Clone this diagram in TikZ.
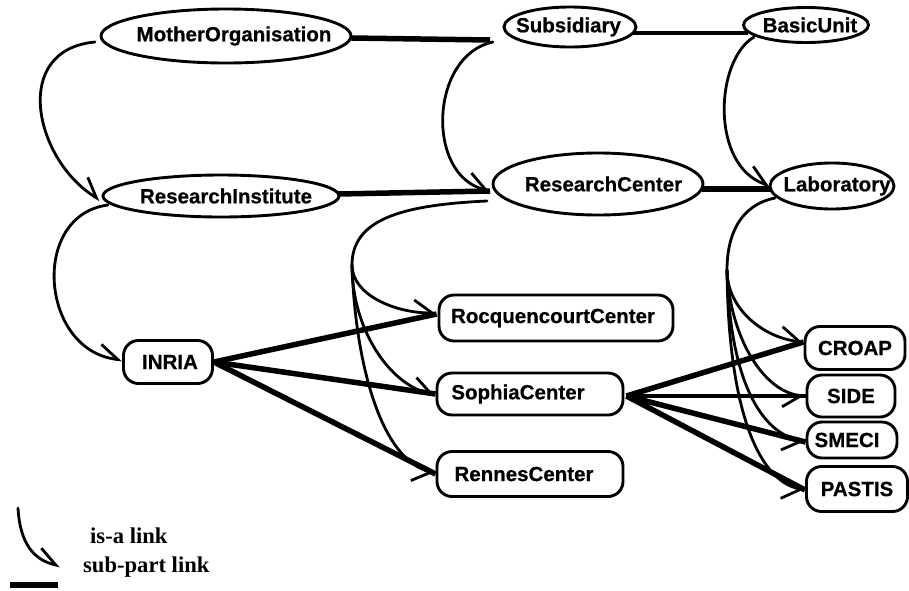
\documentclass[tikz,border=0pt]{standalone}
\usepackage{fontspec}
\setsansfont{Liberation Sans}[BoldFeatures={FakeBold=0.6}]
\newfontfamily\legendfont{Liberation Serif}
\usetikzlibrary{shapes.geometric,arrows.meta,calc}
\newcommand\shx[2]{\hbox to 0pt{\hss\kern#1\kern#1\relax #2\hss}}
\begin{document}
\begin{tikzpicture}[x=1pt,y=1pt,
  lbl/.style={font=\sffamily\bfseries\fontsize{20.5}{24}\selectfont, line width=2.9pt, draw},
  ell/.style={lbl, ellipse, inner xsep=-45pt, inner ysep=0pt},
  rbox/.style={lbl, rectangle, rounded corners=15pt, inner sep=0pt},
  isa/.style={line width=2.8pt, line cap=round, -{Straight Barb[harpoon,length=18pt,width=26pt]}},
  isaR/.style={line width=2.8pt, line cap=round, -{Straight Barb[harpoon,swap,length=18pt,width=26pt]}},
  trunk/.style={line width=2.8pt, line cap=round},
  part/.style={line width=5.5pt},
  thinpart/.style={line width=4.2pt},
  legend/.style={font=\legendfont\bfseries\fontsize{22.6}{26}\selectfont, inner sep=0pt}
]
\useasboundingbox (0,0) rectangle (909,-590);

% nodes
\node[ell, minimum width=250pt, minimum height=54pt] (mo) at (226,-36) {\shx{8pt}{MotherOrganisation}};
\node[ell, minimum width=236pt, minimum height=42pt] (ri) at (221,-196) {\shx{5pt}{ResearchInstitute}};
\node[ell, minimum width=132pt, minimum height=40pt] (sub) at (570,-27) {\shx{-1.5pt}{Subsidiary}};
\node[ell, minimum width=125pt, minimum height=35pt] (bu) at (806,-25) {\shx{4pt}{BasicUnit}};
\node[ell, minimum width=210pt, minimum height=62pt] (rc) at (598,-184) {\shx{5.5pt}{ResearchCenter}};
\node[ell, minimum width=124pt, minimum height=46pt] (lab) at (832,-186) {\shx{5pt}{Laboratory}};

\node[rbox, minimum width=89pt, minimum height=43pt] (inria) at (168,-362) {\shx{2pt}{INRIA}};
\node[rbox, minimum width=234pt, minimum height=46pt] (roc) at (556,-318) {\shx{-3pt}{RocquencourtCenter}};
\node[rbox, minimum width=186pt, minimum height=42pt] (soph) at (530,-394) {\shx{-12pt}{SophiaCenter}};
\node[rbox, minimum width=186pt, minimum height=45pt] (ren) at (530,-474) {\shx{-6pt}{RennesCenter}};
\node[rbox, minimum width=100pt, minimum height=43pt] (croap) at (855,-348) {CROAP};
\node[rbox, minimum width=88pt, minimum height=42pt] (side) at (851,-396) {SIDE};
\node[rbox, minimum width=90pt, minimum height=36pt] (smeci) at (852,-440) {\raisebox{-7pt}{\shx{-5pt}{SMECI}}};
\node[rbox, minimum width=101pt, minimum height=45pt] (pastis) at (857,-489) {PASTIS};

% sub-part links
\draw[part] ($(mo.east)+(-1,-2)$) -- ($(sub)+(-80,-13)$);
\draw[thinpart] ($(sub)+(63,-6)$) -- ($(bu)+(-58,-8)$);
\draw[part] ($(ri)+(117,2)$) -- ($(rc)+(-108,-7)$);
\draw[part] ($(rc)+(104,-5)$) -- ($(lab)+(-61,-3)$);
\draw[part] (inria.east) -- ($(roc.west)+(-1,4)$);
\draw[part] (inria.east) -- (soph.west);
\draw[part] (inria.east) -- (ren.west);
\draw[part] ($(soph.east)+(2,-2)$) -- ($(croap.west)+(0,6)$);
\draw[thinpart] ($(soph.east)+(2,-2)$) -- (side.west);
\draw[part] ($(soph.east)+(2,-2)$) -- ($(smeci.west)+(0,-2)$);
\draw[part] ($(soph.east)+(2,-2)$) -- ($(pastis.west)+(0,-1)$);

% is-a links
\draw[isa] ($(mo)+(-131,-6)$) .. controls (10,-50) and (35,-160) .. ($(ri)+(-121,-4)$);
\draw[isa] ($(ri)+(-113,-9)$) .. controls (30,-215) and (40,-350) .. ($(inria.west)+(0,2)$);
\draw[isa] ($(sub)+(-77,-15)$) .. controls (430,-55) and (425,-175) .. ($(rc)+(-108,-7)$);
\draw[isa] ($(bu)+(-52,-12)$) .. controls (715,-60) and (710,-165) .. ($(lab)+(-62,0)$);

\coordinate (rcfork) at (352,-265);
\draw[trunk] ($(rc)+(-111,-17)$) .. controls (400,-205) and (352,-220) .. (rcfork);
\draw[isa] (rcfork) .. controls (352,-295) and (395,-313) .. ($(roc.west)+(-1,5)$);
\draw[isa] (rcfork) .. controls (352,-330) and (390,-385) .. ($(soph.west)+(0,-1)$);
\draw[isaR] (rcfork) .. controls (355,-360) and (380,-460) .. ($(ren.west)+(0,1)$);

\coordinate (labfork) at (727,-270);
\draw[trunk] ($(lab)+(-57,-12)$) .. controls (740,-205) and (727,-235) .. (labfork);
\draw[isa] (labfork) .. controls (727,-310) and (765,-338) .. ($(croap.west)+(0,6)$);
\draw[isaR] (labfork) .. controls (730,-340) and (765,-392) .. (side.west);
\draw[isaR] (labfork) .. controls (730,-380) and (760,-432) .. ($(smeci.west)+(0,-2)$);
\draw[isaR] (labfork) .. controls (728,-400) and (755,-480) .. ($(pastis.west)+(0,-1)$);

% legend
\coordinate (la) at (18,-508);
\coordinate (lb) at (60,-566);
\draw[isa] (la) .. controls (20,-545) and (35,-560) .. (lb);
\node[legend, anchor=base west] (lisa) at (90,-543) {is-a link};
\coordinate (lc) at (10,-585);
\coordinate (ld) at (58,-585);
\draw[part] (lc) -- (ld);
\node[legend, anchor=base west] (lpart) at (83,-572) {sub-part link};
\end{tikzpicture}
\end{document}
